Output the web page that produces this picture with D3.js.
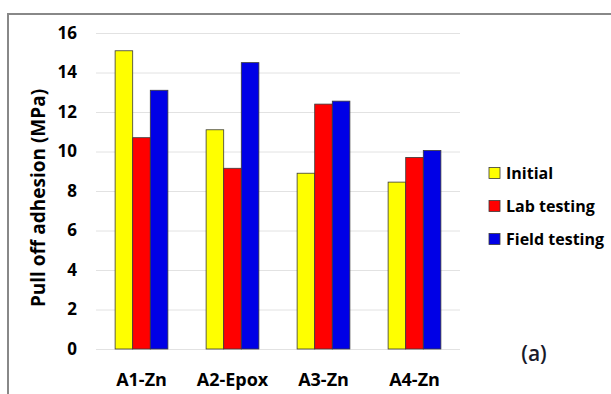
<!DOCTYPE html>
<html>
<head>
<meta charset="utf-8">
<script src="https://cdn.jsdelivr.net/npm/d3@7"></script>
<style>
  html, body { margin: 0; padding: 0; background: #fff; }
  svg { display: block; font-family: "Open Sans", Lato, sans-serif; }
</style>
</head>
<body>
<svg id="chart" width="611" height="394"></svg>
<script>
// Pull-off adhesion per coating system, three test conditions
const categories = ["A1-Zn", "A2-Epox", "A3-Zn", "A4-Zn"];
const seriesNames = ["Initial", "Lab testing", "Field testing"];
const initialValues = [15.1, 11.1, 8.9, 8.45];
const labValues = [10.7, 9.15, 12.4, 9.7];
const fieldValues = [13.1, 14.5, 12.55, 10.05];
const yTicks = [0, 2, 4, 6, 8, 10, 12, 14, 16];
const colors = ["#ffff00", "#ff0000", "#0000e6"];

const seriesValues = [initialValues, labValues, fieldValues];

const svg = d3.select("#chart");
const plot = { left: 96, right: 460, top: 33, bottom: 349 };
const fontFamily = "'Open Sans', Lato, sans-serif";

// Outer frame (top and left edges)
svg.append("path")
  .attr("d", "M8,394 L8,14 L611,14")
  .attr("fill", "none")
  .attr("stroke", "#888")
  .attr("stroke-width", 2);

const x = d3.scaleBand()
  .domain(categories)
  .range([plot.left, plot.right])
  .paddingInner(0.42)
  .paddingOuter(0.21);

const xs = d3.scaleBand()
  .domain(seriesNames)
  .range([0, x.bandwidth()]);

const y = d3.scaleLinear()
  .domain([0, 16])
  .range([plot.bottom, plot.top]);

// Gridlines
svg.append("g")
  .selectAll("line")
  .data(yTicks)
  .join("line")
  .attr("x1", plot.left)
  .attr("x2", plot.right)
  .attr("y1", d => y(d) + 0.5)
  .attr("y2", d => y(d) + 0.5)
  .attr("stroke", "#e2e2e2")
  .attr("stroke-width", 1);

// Y axis tick labels
const yAxis = svg.append("g")
  .attr("transform", `translate(${plot.left},0)`)
  .call(d3.axisLeft(y).tickValues(yTicks).tickSize(0).tickPadding(19));
yAxis.select(".domain").remove();
yAxis.selectAll("text")
  .attr("font-size", 17)
  .attr("font-weight", "bold")
  .attr("fill", "#000")
  .attr("font-family", fontFamily);

// Bars
const groups = svg.append("g")
  .selectAll("g")
  .data(categories)
  .join("g")
  .attr("transform", d => `translate(${x(d)},0)`);

groups.selectAll("rect")
  .data((c, i) => seriesNames.map((s, k) => ({ s, k, v: seriesValues[k][i] })))
  .join("rect")
  .attr("x", d => xs(d.s))
  .attr("y", d => y(d.v))
  .attr("width", xs.bandwidth())
  .attr("height", d => y(0) - y(d.v))
  .attr("fill", d => colors[d.k])
  .attr("stroke", "#3a3a3a")
  .attr("stroke-width", 0.8);

// X axis category labels
const xAxis = svg.append("g")
  .attr("transform", `translate(0,${plot.bottom})`)
  .call(d3.axisBottom(x).tickSize(0).tickPadding(24));
xAxis.select(".domain").remove();
xAxis.selectAll("text")
  .attr("font-size", 18)
  .attr("font-weight", "bold")
  .attr("fill", "#000")
  .attr("font-family", fontFamily);

// Y axis title
svg.append("text")
  .attr("transform", "translate(45,198) rotate(-90)")
  .attr("text-anchor", "middle")
  .attr("font-size", 19)
  .attr("font-weight", "bold")
  .attr("fill", "#000")
  .text("Pull off adhesion (MPa)");

// Legend
const legend = svg.append("g")
  .selectAll("g")
  .data(seriesNames)
  .join("g")
  .attr("transform", (d, i) => `translate(489,${173 + i * 33})`);

legend.append("rect")
  .attr("x", 0)
  .attr("y", -5.5)
  .attr("width", 11)
  .attr("height", 11)
  .attr("fill", (d, i) => colors[i])
  .attr("stroke", "#3a3a3a")
  .attr("stroke-width", 0.8);

legend.append("text")
  .attr("x", 17)
  .attr("y", 0)
  .attr("dy", "0.36em")
  .attr("font-size", 16)
  .attr("font-weight", "bold")
  .attr("fill", "#000")
  .text(d => d);

// Panel label
svg.append("text")
  .attr("x", 534)
  .attr("y", 353)
  .attr("dy", "0.36em")
  .attr("text-anchor", "middle")
  .attr("font-size", 21)
  .attr("font-weight", 600)
  .attr("fill", "#1a1a2a")
  .text("(a)");
</script>
</body>
</html>
